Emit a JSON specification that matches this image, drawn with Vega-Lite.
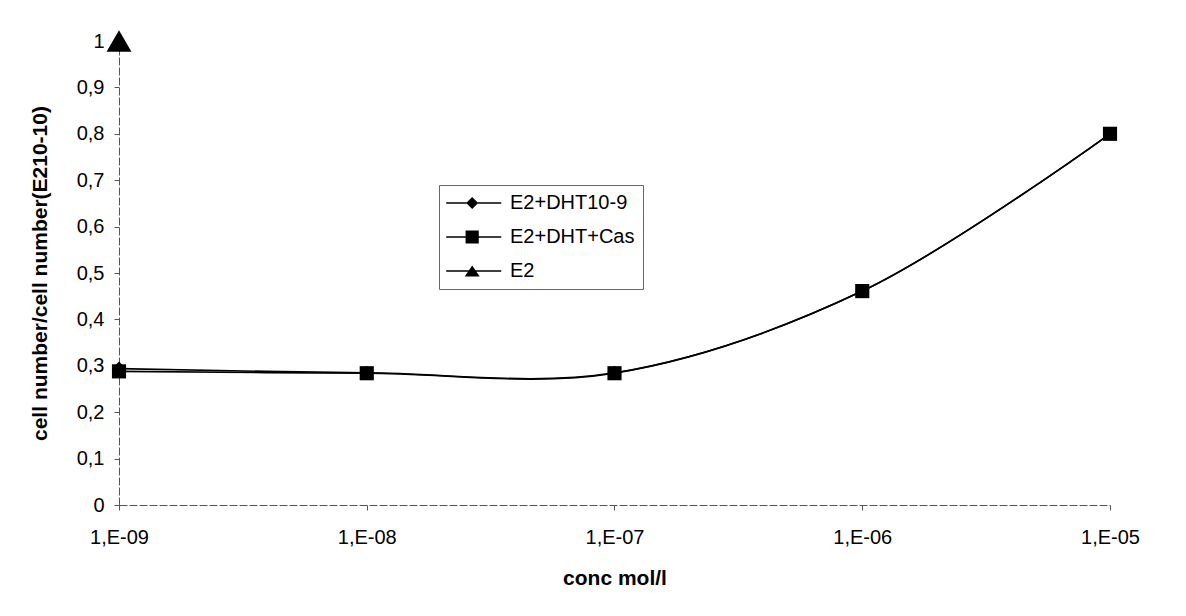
{
  "$schema": "https://vega.github.io/schema/vega-lite/v6.json",
  "width": 991,
  "height": 464,
  "autosize": {"type": "none"},
  "padding": {"left": 119, "top": 41, "right": 76, "bottom": 111},
  "background": "white",
  "config": {
    "view": {"stroke": null},
    "font": "Liberation Sans",
    "axis": {"labelFont": "Liberation Sans", "titleFont": "Liberation Sans", "labelColor": "black", "titleColor": "black", "grid": false}
  },
  "data": {
    "values": [
      {"series": "E2+DHT10-9", "conc": 1e-9, "ratio": 0.294},
      {"series": "E2+DHT10-9", "conc": 1e-8, "ratio": 0.285},
      {"series": "E2+DHT10-9", "conc": 1e-7, "ratio": 0.285},
      {"series": "E2+DHT10-9", "conc": 1e-6, "ratio": 0.461},
      {"series": "E2+DHT10-9", "conc": 1e-5, "ratio": 0.80},
      {"series": "E2+DHT+Cas", "conc": 1e-9, "ratio": 0.288},
      {"series": "E2+DHT+Cas", "conc": 1e-8, "ratio": 0.284},
      {"series": "E2+DHT+Cas", "conc": 1e-7, "ratio": 0.284},
      {"series": "E2+DHT+Cas", "conc": 1e-6, "ratio": 0.461},
      {"series": "E2+DHT+Cas", "conc": 1e-5, "ratio": 0.80},
      {"series": "E2", "conc": 1e-9, "ratio": 1.0}
    ]
  },
  "encoding": {
    "x": {
      "field": "conc", "type": "quantitative",
      "scale": {"type": "log", "domain": [1e-9, 1e-5], "nice": false},
      "axis": {
        "title": "conc mol/l", "titleFontSize": 21, "titleFontWeight": "bold", "titlePadding": 20,
        "values": [1e-9, 1e-8, 1e-7, 1e-6, 1e-5],
        "labelExpr": "'1,E-' + (abs(round(log(datum.value)/LN10)) < 10 ? '0' : '') + abs(round(log(datum.value)/LN10))",
        "labelFontSize": 20, "labelPadding": 17, "tickSize": 5, "tickColor": "#555", "domainColor": "#555", "domainDash": [8, 2], "labelFlush": false
      }
    },
    "y": {
      "field": "ratio", "type": "quantitative",
      "scale": {"domain": [0, 1], "nice": false},
      "axis": {
        "title": "cell number/cell number(E210-10)", "titleFontSize": 21, "titleFontWeight": "bold", "titlePadding": 26,
        "values": [0, 0.1, 0.2, 0.3, 0.4, 0.5, 0.6, 0.7, 0.8, 0.9, 1],
        "labelExpr": "replace(format(datum.value, '.1~f'), '.', ',')",
        "labelFontSize": 20, "labelPadding": 10, "tickSize": 5, "tickColor": "#555", "domainColor": "#555", "domainDash": [8, 2]
      }
    }
  },
  "layer": [
    {
      "mark": {"type": "line", "interpolate": "catmull-rom", "color": "black", "strokeWidth": 1.6},
      "encoding": {"detail": {"field": "series"}}
    },
    {
      "mark": {"type": "point", "filled": true, "color": "black", "opacity": 1},
      "encoding": {
        "shape": {
          "field": "series", "type": "nominal",
          "scale": {"domain": ["E2+DHT10-9", "E2+DHT+Cas", "E2"], "range": ["diamond", "square", "triangle-up"]},
          "legend": null
        },
        "size": {"condition": {"test": "datum.series === 'E2'", "value": 620}, "value": 200}
      }
    },
    {
      "mark": {"type": "point", "filled": true, "color": "black", "opacity": 0},
      "encoding": {
        "shape": {
          "field": "series", "type": "nominal",
          "scale": {
            "domain": ["E2+DHT10-9", "E2+DHT+Cas", "E2"],
            "range": [
              "M-1.8,-0.12H1.6V0.12H-1.8ZM3.46,-0.12H7.37V0.12H3.46ZM2.53,-1L3.53,0L2.53,1L1.53,0Z",
              "M-1.8,-0.12H1.5V0.12H-1.8ZM3.56,-0.12H7.37V0.12H3.56ZM1.43,-1.1H3.63V1.1H1.43Z",
              "M-1.8,-0.12H2V0.12H-1.8ZM3.06,-0.12H7.37V0.12H3.06ZM2.53,-0.9L3.78,0.9H1.28Z"
            ]
          },
          "legend": {
            "title": null,
            "orient": "none", "legendX": 320, "legendY": 144,
            "padding": 8, "rowPadding": 14,
            "strokeColor": "#666",
            "symbolSize": 144, "symbolFillColor": "black", "symbolStrokeColor": "black", "symbolStrokeWidth": 0, "symbolOpacity": 1,
            "labelFont": "Liberation Sans", "labelFontSize": 20, "labelColor": "black", "labelOffset": 43,
            "encode": {
              "legend": {"update": {"strokeDash": {"value": [4, 2]}}}
            }
          }
        }
      }
    }
  ],
  "resolve": {"scale": {"shape": "independent"}, "legend": {"shape": "independent"}}
}
